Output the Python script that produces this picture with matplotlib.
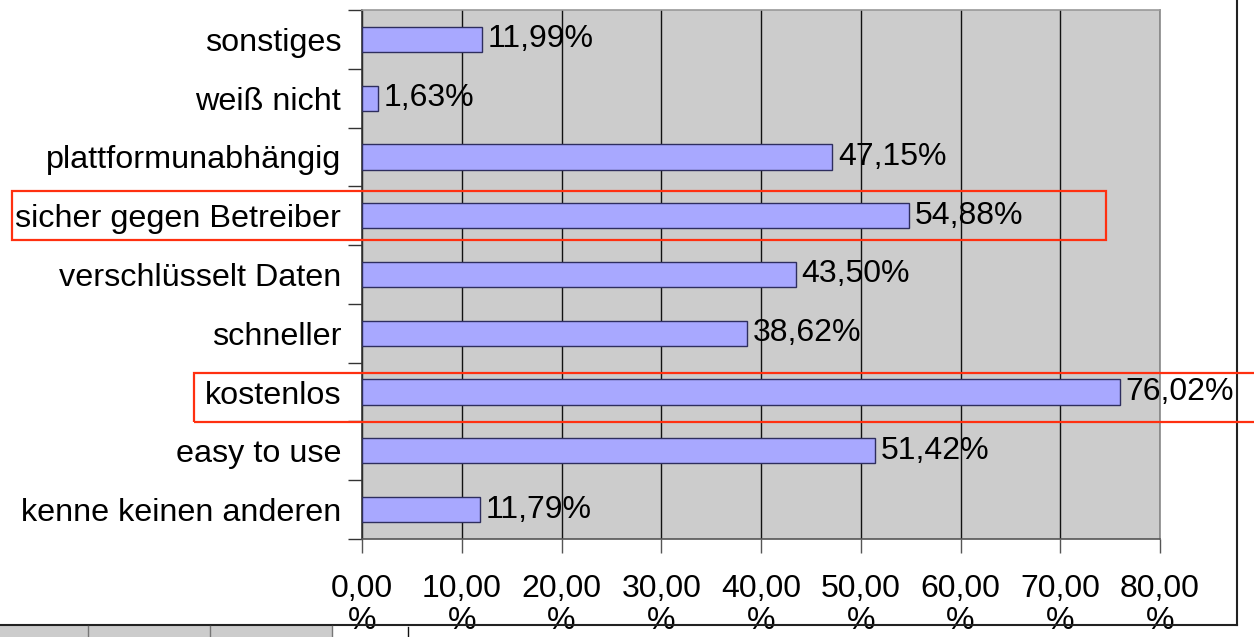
import matplotlib
matplotlib.use("Agg")
import matplotlib.pyplot as plt
from matplotlib.lines import Line2D
from matplotlib.patches import Rectangle

plt.rcParams['font.family'] = ['Liberation Sans', 'DejaVu Sans']

# Reasons for choosing the service (share of answers, percent), bottom to top
categories = [
    "kenne keinen anderen",
    "easy to use",
    "kostenlos",
    "schneller",
    "verschlüsselt Daten",
    "sicher gegen Betreiber",
    "plattformunabhängig",
    "weiß nicht",
    "sonstiges",
]
values = [11.79, 51.42, 76.02, 38.62, 43.50, 54.88, 47.15, 1.63, 11.99]
value_labels = ["11,79%", "51,42%", "76,02%", "38,62%", "43,50%",
                "54,88%", "47,15%", "1,63%", "11,99%"]
x_ticks = [0, 10, 20, 30, 40, 50, 60, 70, 80]
x_tick_labels = ["0,00\n%", "10,00\n%", "20,00\n%", "30,00\n%", "40,00\n%",
                 "50,00\n%", "60,00\n%", "70,00\n%", "80,00\n%"]

W, H = 1254, 637
fig = plt.figure(figsize=(W / 100, H / 100), dpi=100)
fig.patch.set_facecolor("white")


def fx(px):
    return px / W


def fy(py):
    return 1 - py / H


ax = fig.add_axes([fx(362), fy(539), fx(1160) - fx(362), fy(10) - fy(539)])
ax.set_facecolor("#CCCCCC")

pos = list(range(len(categories)))
ax.barh(pos, values, height=0.43, color="#A8A8FF", edgecolor="#2E2E5E",
        linewidth=1.0, zorder=3)

for p, v, lab in zip(pos, values, value_labels):
    ax.annotate(lab, (v, p), xytext=(4, 0), textcoords="offset points",
                ha="left", va="center", fontsize=23, color="black", zorder=5)

ax.set_xlim(0, 80)
ax.set_ylim(-0.5, len(categories) - 0.5)

ax.set_xticks(x_ticks)
ax.set_xticklabels(x_tick_labels, fontsize=23, linespacing=1.12)
ax.tick_params(axis="x", length=10, width=1, color="#555555", pad=15)
ax.xaxis.grid(True, color="#111111", linewidth=1.0, zorder=1)
ax.set_axisbelow(True)

ax.set_yticks(pos)
ax.set_yticklabels(categories, fontsize=23.3)
ax.tick_params(axis="y", which="major", length=0, pad=15)
ax.set_yticks([p - 0.5 for p in pos] + [len(categories) - 0.5], minor=True)
ax.tick_params(axis="y", which="minor", length=10, width=1, color="#333333")

for side, col in [("left", "#333333"), ("bottom", "#555555"),
                  ("top", "#999999"), ("right", "#888888")]:
    ax.spines[side].set_color(col)
    ax.spines[side].set_linewidth(1.2)

# Chart frame (right and bottom edge)
fig.add_artist(Line2D([fx(0), fx(1237)], [fy(625), fy(625)],
                      transform=fig.transFigure, color="#222222", lw=1.5))
fig.add_artist(Line2D([fx(1237), fx(1237)], [fy(0), fy(625)],
                      transform=fig.transFigure, color="#222222", lw=1.5))

# Sheet cells below the frame
fig.add_artist(Rectangle((fx(0), fy(637)), fx(332), fy(626) - fy(637),
                         transform=fig.transFigure, facecolor="#CCCCCC",
                         edgecolor="none"))
for xc in (88, 210, 332):
    fig.add_artist(Line2D([fx(xc), fx(xc)], [fy(626), fy(637)],
                          transform=fig.transFigure, color="#777777", lw=1))
fig.add_artist(Line2D([fx(408), fx(408)], [fy(627), fy(637)],
                      transform=fig.transFigure, color="#111111", lw=1))

# Highlight boxes
red = "#FF3010"
fig.add_artist(Rectangle((fx(12), fy(240)), fx(1106) - fx(12), fy(191) - fy(240),
                         transform=fig.transFigure, facecolor="none",
                         edgecolor=red, lw=1.6, zorder=10))
fig.add_artist(Rectangle((fx(194), fy(422)), fx(1270) - fx(194), fy(373) - fy(422),
                         transform=fig.transFigure, facecolor="none",
                         edgecolor=red, lw=1.6, zorder=10, clip_on=False))

fig.savefig("out.png", dpi=100)
